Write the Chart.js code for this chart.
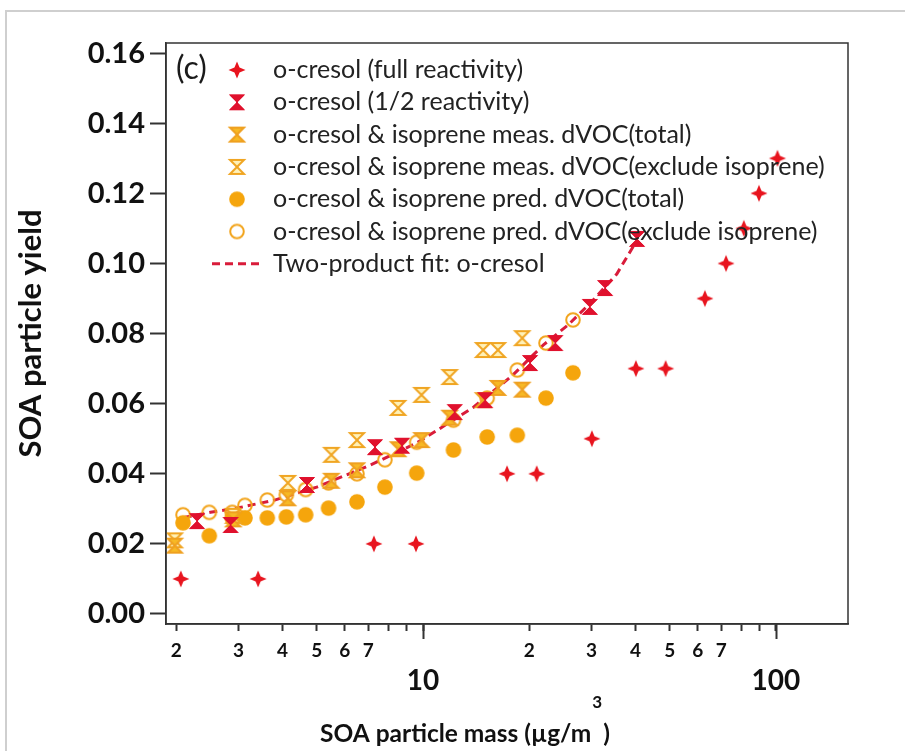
<!DOCTYPE html>
<html>
<head>
<meta charset="utf-8">
<script src="https://cdn.jsdelivr.net/npm/chart.js@4.4.0/dist/chart.umd.min.js"></script>
<style>
  html, body { margin: 0; padding: 0; background: #fff; overflow: hidden; }
  #frame { position: absolute; left: 5px; top: 10px; width: 905px; height: 745px;
           border-left: 2px solid #cfcfcf; border-top: 2px solid #cfcfcf; }
  #myChart { position: absolute; left: 0; top: 0; }
</style>
</head>
<body>
<div id="frame"></div>
<canvas id="myChart" width="905" height="751"></canvas>
<script>
// o-cresol, full reactivity
const fullX = [2.06, 3.41, 7.26, 9.55, 17.3, 21.0, 30.1, 40.1, 48.7, 62.9, 72.2, 81.1, 89.5, 101];
const fullY = [0.01, 0.01, 0.02, 0.02, 0.04, 0.04, 0.05, 0.07, 0.07, 0.09, 0.10, 0.11, 0.12, 0.13];

// o-cresol, 1/2 reactivity
const halfX = [2.29, 2.85, 4.69, 7.31, 8.72, 12.3, 15.0, 20.1, 23.7, 29.7, 32.8, 40.4];
const halfY = [0.0265, 0.0254, 0.0368, 0.0476, 0.048, 0.0576, 0.061, 0.0716, 0.0773, 0.0876, 0.093, 0.107];

// o-cresol & isoprene, measured dVOC
const measX = [1.98, 2.9, 4.14, 5.5, 6.5, 8.5, 9.9, 11.9, 14.8, 16.3, 19.1];
const measTotal = [0.0195, 0.027, 0.033, 0.038, 0.041, 0.047, 0.0496, 0.056, 0.061, 0.0645, 0.064];
const measExcl = [0.021, 0.028, 0.0374, 0.0454, 0.0496, 0.0588, 0.0625, 0.0676, 0.0753, 0.0753, 0.0787];

// o-cresol & isoprene, predicted dVOC
const predX = [2.09, 2.48, 2.88, 3.13, 3.62, 4.1, 4.65, 5.4, 6.5, 7.8, 9.6, 12.2, 15.2, 18.5, 22.3, 26.6];
const predTotal = [0.026, 0.0223, 0.0274, 0.0274, 0.0274, 0.0277, 0.0283, 0.0302, 0.032, 0.0362, 0.0402, 0.0468, 0.0505, 0.051, 0.0616, 0.0688];
const predExcl = [0.0283, 0.029, 0.029, 0.031, 0.0325, 0.034, 0.0355, 0.0374, 0.040, 0.044, 0.049, 0.0553, 0.0616, 0.0696, 0.0773, 0.0839];

// two-product fit
const fitX = [2.1, 2.5, 3.0, 3.8, 5.0, 7.1, 9.6, 11, 13.9, 17.9, 21.9, 25.8, 30, 35.4, 39.5];
const fitY = [0.0275, 0.029, 0.0303, 0.0325, 0.0362, 0.0425, 0.0488, 0.0525, 0.059, 0.068, 0.0767, 0.0825, 0.089, 0.097, 0.105];

// tick labels
const xTicks = [2, 3, 4, 5, 6, 7, 8, 9, 10, 20, 30, 40, 50, 60, 70, 80, 90, 100];
const xTickLabels = ["2", "3", "4", "5", "6", "7", "", "", "10", "2", "3", "4", "5", "6", "7", "", "", "100"];
const yTicks = [0, 0.02, 0.04, 0.06, 0.08, 0.10, 0.12, 0.14, 0.16];

const pts = (xs, ys) => xs.map((x, i) => ({ x, y: ys[i] }));

// marker images
function marker(size, draw) {
  const c = document.createElement("canvas");
  c.width = size;
  c.height = size;
  draw(c.getContext("2d"), size / 2);
  return c;
}

function hourglass(ctx, m, r) {
  ctx.beginPath();
  ctx.moveTo(m - r, m - r);
  ctx.lineTo(m + r, m - r);
  ctx.lineTo(m, m);
  ctx.lineTo(m + r, m + r);
  ctx.lineTo(m - r, m + r);
  ctx.lineTo(m, m);
  ctx.closePath();
}

const starImg = marker(20, (ctx, m) => {
  const R = 8.5, r = 3.6;
  ctx.beginPath();
  for (let k = 0; k < 8; k++) {
    const a = -Math.PI / 2 + k * Math.PI / 4;
    const rr = k % 2 === 0 ? R : r;
    ctx.lineTo(m + rr * Math.cos(a), m + rr * Math.sin(a));
  }
  ctx.closePath();
  ctx.fillStyle = "#e8141e";
  ctx.fill();
});

const halfImg = marker(20, (ctx, m) => {
  hourglass(ctx, m, 7.5);
  ctx.fillStyle = "#e0112d";
  ctx.fill();
  ctx.strokeStyle = "#e0112d";
  ctx.lineWidth = 1;
  ctx.stroke();
});

const measTotalImg = marker(20, (ctx, m) => {
  hourglass(ctx, m, 7);
  ctx.fillStyle = "#f7b925";
  ctx.fill();
  ctx.strokeStyle = "#efa020";
  ctx.lineWidth = 2;
  ctx.stroke();
});

const measExclImg = marker(20, (ctx, m) => {
  hourglass(ctx, m, 7);
  ctx.fillStyle = "#fff1b8";
  ctx.fill();
  ctx.strokeStyle = "#f0a522";
  ctx.lineWidth = 2;
  ctx.stroke();
});

const predTotalImg = marker(20, (ctx, m) => {
  ctx.beginPath();
  ctx.arc(m, m, 7.8, 0, Math.PI * 2);
  ctx.fillStyle = "#f5a50c";
  ctx.fill();
});

const predExclImg = marker(20, (ctx, m) => {
  ctx.beginPath();
  ctx.arc(m, m, 6.8, 0, Math.PI * 2);
  ctx.strokeStyle = "#f2a41c";
  ctx.lineWidth = 2;
  ctx.stroke();
});

const fitColor = "#d91c3a";

const myChart = document.getElementById("myChart").getContext("2d");

// chart frame, long ticks at 10 and 100, x title
const framePlugin = {
  id: "frame",
  afterDraw(chart) {
    const { ctx, chartArea } = chart;
    const xs = chart.scales.x;
    ctx.save();
    ctx.strokeStyle = "#333";
    ctx.lineWidth = 1.5;
    ctx.strokeRect(chartArea.left, chartArea.top, chartArea.right - chartArea.left, chartArea.bottom - chartArea.top);
    ctx.lineWidth = 2;
    [10, 100].forEach((v) => {
      const px = Math.round(xs.getPixelForValue(v)) + 0.5;
      ctx.beginPath();
      ctx.moveTo(px, chartArea.bottom);
      ctx.lineTo(px, chartArea.bottom + 15);
      ctx.stroke();
    });

    // x axis title with superscript
    ctx.fillStyle = "#111";
    ctx.textBaseline = "alphabetic";
    ctx.font = "bold 24.5px Lato";
    const main = "SOA particle mass (\u00b5g/m";
    let tx = chartArea.left + 154;
    const ty = 742;
    ctx.fillText(main, tx, ty);
    tx += ctx.measureText(main).width + 1;
    ctx.font = "bold 17px Lato";
    ctx.fillText("3", tx, ty - 34);
    tx += ctx.measureText("3").width + 1;
    ctx.font = "bold 24.5px Lato";
    ctx.fillText(")", tx, ty);
    ctx.restore();
  },
};

// legend drawn inside the plot area
const legendPlugin = {
  id: "insideLegend",
  afterDatasetsDraw(chart) {
    const { ctx, chartArea } = chart;
    const left = chartArea.left;
    ctx.save();
    ctx.textBaseline = "middle";
    ctx.fillStyle = "#1a1a1a";
    ctx.font = "32px Lato";
    ctx.fillText("(c)", left + 10, chartArea.top + 26);
    ctx.font = "25px Lato";
    ctx.fillStyle = "#222";
    chart.data.datasets.forEach((ds, i) => {
      const y = chartArea.top + 27 + i * 32.3;
      const mx = left + 71;
      if (ds.showLine) {
        ctx.strokeStyle = ds.borderColor;
        ctx.lineWidth = ds.borderWidth;
        ctx.setLineDash(ds.borderDash);
        ctx.beginPath();
        ctx.moveTo(mx - 25, y);
        ctx.lineTo(mx + 26, y);
        ctx.stroke();
        ctx.setLineDash([]);
      } else {
        const img = ds.pointStyle;
        ctx.drawImage(img, mx - img.width / 2, y - img.height / 2);
      }
      ctx.fillText(ds.label, left + 107, y);
    });
    ctx.restore();
  },
};

const datasets = [
  { label: "o-cresol (full reactivity)", data: pts(fullX, fullY), pointStyle: starImg },
  { label: "o-cresol (1/2 reactivity)", data: pts(halfX, halfY), pointStyle: halfImg },
  { label: "o-cresol & isoprene meas. dVOC(total)", data: pts(measX, measTotal), pointStyle: measTotalImg },
  { label: "o-cresol & isoprene meas. dVOC(exclude isoprene)", data: pts(measX, measExcl), pointStyle: measExclImg },
  { label: "o-cresol & isoprene pred. dVOC(total)", data: pts(predX, predTotal), pointStyle: predTotalImg },
  { label: "o-cresol & isoprene pred. dVOC(exclude isoprene)", data: pts(predX, predExcl), pointStyle: predExclImg },
  {
    label: "Two-product fit: o-cresol",
    data: pts(fitX, fitY),
    showLine: true,
    pointRadius: 0,
    borderColor: fitColor,
    borderWidth: 3,
    borderDash: [8, 5],
  },
];
datasets.forEach((d) => {
  if (!d.showLine) {
    d.pointRadius = 8;
    d.pointHoverRadius = 8;
  }
});

new Chart(myChart, {
  type: "scatter",
  data: { datasets },
  options: {
    responsive: false,
    animation: false,
    devicePixelRatio: 1,
    layout: { padding: { top: 43, right: 57, left: 0, bottom: 0 } },
    plugins: {
      legend: { display: false },
      tooltip: { enabled: false },
    },
    scales: {
      x: {
        type: "logarithmic",
        min: 1.87,
        max: 160,
        afterFit: (s) => {
          s.height = 127;
        },
        afterBuildTicks: (s) => {
          s.ticks = xTicks.map((v) => ({ value: v }));
        },
        grid: { drawOnChartArea: false, tickLength: 7, tickWidth: 2, tickColor: "#333" },
        border: { color: "#333", width: 1.5 },
        ticks: {
          autoSkip: false,
          maxRotation: 0,
          padding: 8,
          color: "#111",
          font: (c) => {
            const big = c.index === 8 || c.index === 17;
            return { family: "Lato", weight: "bold", size: big ? 28 : 19, lineHeight: big ? 1.0 : 1.2 };
          },
          callback: (v, i) => {
            const t = xTickLabels[i];
            return t.length > 1 ? ["", t] : t;
          },
        },
      },
      y: {
        min: -0.00286,
        max: 0.1629,
        afterFit: (s) => {
          s.width = 166;
        },
        afterBuildTicks: (s) => {
          s.ticks = yTicks.map((v) => ({ value: v }));
        },
        grid: { drawOnChartArea: false, tickLength: 16, tickWidth: 2, tickColor: "#333" },
        border: { color: "#333", width: 1.5 },
        ticks: {
          padding: 5,
          color: "#111",
          font: { family: "Lato", weight: "bold", size: 29 },
          callback: (v) => v.toFixed(2),
        },
        title: {
          display: true,
          text: "SOA particle yield",
          color: "#111",
          font: { family: "Lato", weight: "bold", size: 31 },
          padding: { top: 12, bottom: 0 },
        },
      },
    },
  },
  plugins: [framePlugin, legendPlugin],
});
</script>
</body>
</html>
